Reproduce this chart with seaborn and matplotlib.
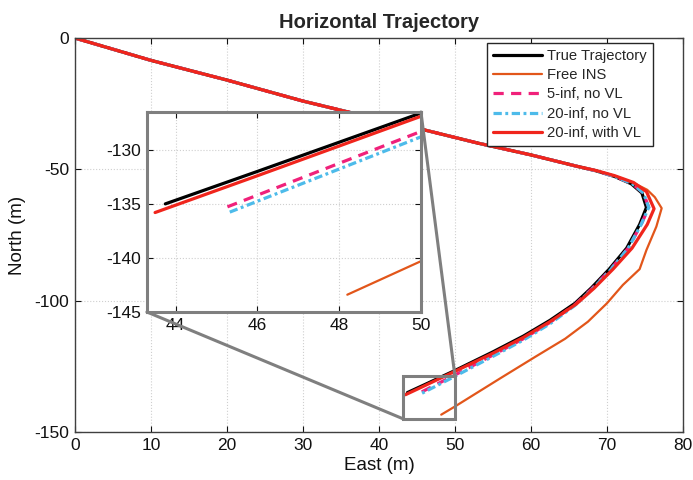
import matplotlib
matplotlib.use("Agg")
import matplotlib.pyplot as plt
from matplotlib.patches import Rectangle, ConnectionPatch
import seaborn as sns
import pandas as pd

# ---------------- data ----------------
true_x = [0, 10, 20, 30, 40, 46, 53, 60, 66, 68.5, 71, 73.2, 74.6, 75.2, 74.3, 72.6, 70.3, 68, 65.8, 62.5, 59, 55, 50, 46, 43.75]
true_y = [0, -8.5, -16, -24, -31, -35, -40, -44.5, -48.8, -50.5, -52.7, -55.5, -59.0, -64.5, -71, -80, -88, -95, -101, -107.5, -113.5, -119.5, -126.6, -132.0, -135.0]

ins_x = [0, 10, 20, 30, 40, 46, 53, 60, 66, 68.5, 71, 73.4, 75.3, 76.3, 77.2, 76.5, 75.2, 74.3, 72.1, 70, 67.5, 64.5, 60.5, 56, 50, 48.2]
ins_y = [0, -8.5, -16, -24, -31, -35, -40, -44.5, -48.8, -50.5, -52.5, -55.0, -57.8, -60.6, -64.8, -71.8, -80.7, -88, -94, -101, -108, -114.5, -121.5, -129.5, -140.3, -143.4]

inf5_x = [0, 10, 20, 30, 40, 46, 53, 60, 66, 68.5, 71, 73.3, 74.8, 75.5, 74.5, 72.8, 70.4, 68, 65.8, 62.5, 59, 55, 50, 45.25]
inf5_y = [0, -8.5, -16, -24, -31, -35, -40, -44.5, -48.8, -50.5, -52.7, -55.4, -59.0, -64.5, -71, -80, -88.3, -95.5, -101.5, -108.3, -114.5, -120.7, -128.3, -135.3]

inf20_x = [0, 10, 20, 30, 40, 46, 53, 60, 66, 68.5, 71, 73.3, 74.8, 75.5, 74.5, 72.8, 70.4, 68, 65.8, 62.5, 59, 55, 50, 45.3]
inf20_y = [0, -8.5, -16, -24, -31, -35, -40, -44.5, -48.8, -50.5, -52.7, -55.4, -59.0, -64.5, -71, -80, -88.5, -95.8, -101.8, -108.8, -115.0, -121.2, -128.8, -135.8]

vl_x = [0, 10, 20, 30, 40, 46, 53, 60, 66, 68.5, 71, 73.5, 75.2, 76.2, 75.3, 73.3, 70.8, 68.3, 66, 62.5, 59, 55, 50, 46, 43.5]
vl_y = [0, -8.5, -16, -24, -31, -35, -40, -44.5, -48.8, -50.4, -52.4, -55.0, -58.5, -65, -71, -80, -88, -95.3, -101.2, -108, -114, -120, -126.9, -132.4, -135.8]

labels = ["True Trajectory", "Free INS", "5-inf, no VL", "20-inf, no VL", "20-inf, with VL"]
x_ticks = [0, 10, 20, 30, 40, 50, 60, 70, 80]
y_ticks = [0, -50, -100, -150]
inset_xlim = [43.3, 50]
inset_ylim = [-145, -126.5]
inset_xticks = [44, 46, 48, 50]
inset_yticks = [-130, -135, -140, -145]
zoom_box = [43.2, 50, -145, -128.7]   # x0, x1, y0, y1

series = [
    (true_x, true_y, dict(color="#000000", lw=2.3, ls="-")),
    (ins_x, ins_y, dict(color="#E2561A", lw=1.6, ls="-")),
    (inf5_x, inf5_y, dict(color="#F0217A", lw=2.3, ls=(0, (3.2, 2.3)))),
    (inf20_x, inf20_y, dict(color="#4DBBEA", lw=2.3, ls=(0, (2.6, 1.1, 0.9, 1.1)))),
    (vl_x, vl_y, dict(color="#F0251C", lw=2.3, ls="-")),
]

# ---------------- style ----------------
sns.set_theme(style="ticks")
plt.rcParams["font.family"] = ["Liberation Sans", "DejaVu Sans"]
plt.rcParams["axes.unicode_minus"] = False

fig = plt.figure(figsize=(6.93, 4.8), dpi=100)
ax = fig.add_axes([0.108, 0.1, 0.8775, 0.8208])
axi = fig.add_axes([0.212, 0.35, 0.3954, 0.4167])


def draw(a, with_label):
    for (xs, ys, st), lab in zip(series, labels):
        df = pd.DataFrame({"x": xs, "y": ys})
        sns.lineplot(data=df, x="x", y="y", sort=False, estimator=None, ax=a,
                     color=st["color"], linewidth=st["lw"], linestyle=st["ls"],
                     label=lab if with_label else None, legend=False)


def style_axes(a, spine_color, spine_lw):
    a.tick_params(direction="in", top=True, right=True, length=4, width=0.8,
                  labelsize=12.5, colors="#111111", pad=4)
    for s in a.spines.values():
        s.set_color(spine_color)
        s.set_linewidth(spine_lw)
    a.grid(True, linestyle=":", color="#cfcfcf", linewidth=0.8)
    a.set_xlabel("")
    a.set_ylabel("")


draw(ax, True)
ax.set_xlim(0, 80)
ax.set_ylim(-150, 0)
ax.set_xticks(x_ticks)
ax.set_yticks(y_ticks)
style_axes(ax, "#404040", 1.0)
ax.set_xlabel("East (m)", fontsize=13.5, color="#111111", labelpad=3)
ax.set_ylabel("North (m)", fontsize=13.5, color="#111111", labelpad=6)
ax.set_title("Horizontal Trajectory", fontsize=14.5, fontweight="bold", pad=7)

# zoom box in main axes
bx0, bx1, by0, by1 = zoom_box
ax.add_patch(Rectangle((bx0, by0), bx1 - bx0, by1 - by0, fill=False,
                       edgecolor="#7f7f7f", lw=2.2, zorder=6))

# legend
handles, labs = ax.get_legend_handles_labels()
leg = ax.legend(handles, labs, loc="upper right",
                bbox_to_anchor=(653 / 693, 1 - 43 / 480), bbox_transform=fig.transFigure,
                borderaxespad=0, fontsize=10.6, frameon=True, fancybox=False,
                framealpha=1, edgecolor="#262626", handlelength=3.3,
                labelspacing=0.36, borderpad=0.4, handletextpad=0.4)
leg.get_frame().set_linewidth(1.0)
leg.set_zorder(10)

# inset
draw(axi, False)
axi.set_xlim(*inset_xlim)
axi.set_ylim(*inset_ylim)
axi.set_xticks(inset_xticks)
axi.set_yticks(inset_yticks)
style_axes(axi, "#7f7f7f", 2.2)
axi.set_facecolor("white")

# connectors
for xa, ya, xb, yb in [(inset_xlim[0], inset_ylim[0], bx0, by0),
                       (inset_xlim[1], inset_ylim[1], bx1, by1)]:
    con = ConnectionPatch(xyA=(xa, ya), coordsA=axi.transData,
                          xyB=(xb, yb), coordsB=ax.transData,
                          color="#7f7f7f", lw=2.2, zorder=8)
    fig.add_artist(con)

fig.savefig("out.png", dpi=100)
